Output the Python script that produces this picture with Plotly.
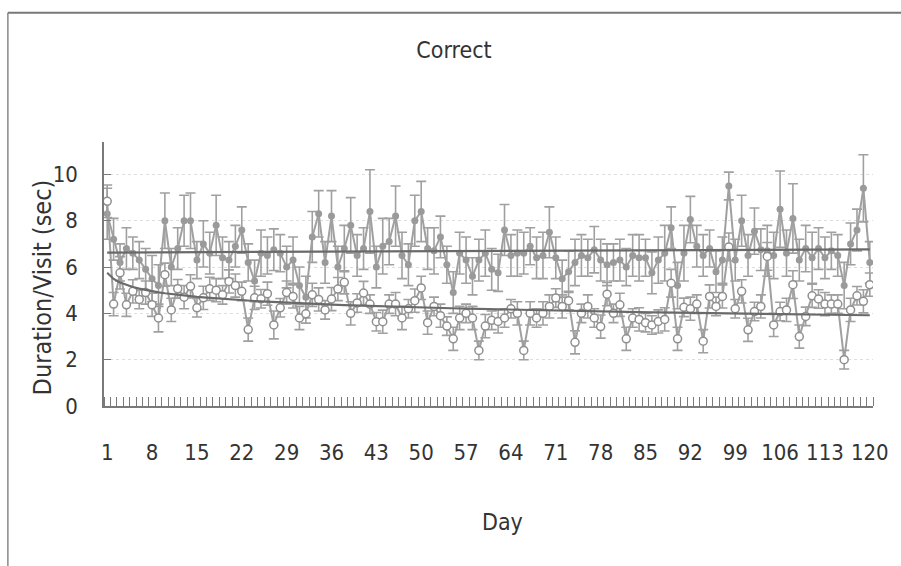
import numpy as np
import plotly.graph_objects as go

days = list(range(1, 121))
tick_days = [1, 8, 15, 22, 29, 36, 43, 50, 57, 64, 71, 78, 85, 92, 99, 106, 113, 120]
y_ticks = [0, 2, 4, 6, 8, 10]

# filled (upper) series
filled = [8.3, 7.2, 6.2, 6.8, 6.6, 6.3, 5.9, 5.5, 5.2, 8.0, 6.0, 6.8, 8.0, 8.0, 6.3, 7.0, 6.6, 7.8, 6.4, 6.3,
          6.9, 7.6, 6.2, 5.4, 6.6, 6.5, 6.75, 6.6, 6.0, 6.3, 5.2, 4.7, 7.3, 8.3, 6.2, 8.2, 6.0, 6.8, 7.8, 6.5,
          6.8, 8.4, 6.0, 6.9, 7.1, 8.2, 6.5, 6.1, 8.0, 8.4, 6.8, 6.7, 7.3, 6.1, 4.9, 6.6, 6.3, 5.6, 6.3, 6.6,
          5.9, 5.75, 7.6, 6.5, 6.6, 6.6, 6.9, 6.4, 6.5, 7.5, 6.4, 5.5, 5.8, 6.2, 6.5, 6.4, 6.75, 6.3, 6.1, 6.2,
          6.3, 6.0, 6.5, 6.4, 6.4, 5.75, 6.3, 6.6, 7.7, 5.2, 6.6, 8.05, 6.9, 6.5, 6.8, 5.8, 6.3, 9.5, 6.3, 8.0,
          6.5, 7.55, 6.75, 6.7, 6.5, 8.5, 6.6, 8.1, 6.3, 6.8, 6.4, 6.8, 6.4, 6.7, 6.5, 5.2, 7.0, 7.6, 9.4, 6.2]
filled_err = [1.1, 0.9, 0.8, 0.9, 0.7, 0.8, 0.9, 1.0, 0.9, 1.2, 0.8, 0.9, 1.1, 1.2, 0.8, 1.0, 0.9, 1.3, 0.9, 0.8,
              0.9, 1.0, 0.8, 0.9, 1.0, 0.8, 0.9, 0.8, 0.9, 1.0, 0.8, 0.9, 1.1, 1.0, 0.9, 1.1, 0.9, 1.0, 1.2, 0.9,
              0.9, 1.8, 0.9, 1.2, 1.0, 1.3, 1.0, 0.9, 1.1, 1.3, 0.9, 1.0, 0.9, 0.8, 0.9, 0.9, 1.0, 0.8, 0.9, 1.0,
              0.9, 0.8, 1.1, 0.9, 1.0, 0.9, 0.8, 0.9, 1.0, 1.1, 0.9, 0.8, 0.9, 1.0, 0.9, 0.8, 1.0, 0.9, 0.9, 0.8,
              0.9, 0.8, 0.9, 1.0, 0.8, 0.9, 1.0, 1.2, 0.9, 1.0, 1.2, 1.0, 0.9, 0.9, 0.8, 0.9, 1.0, 0.6, 0.9, 1.1,
              0.9, 1.0, 0.9, 1.1, 1.0, 1.65, 1.0, 1.5, 0.9, 1.0, 1.1, 0.9, 0.9, 0.8, 0.9, 1.0, 0.9, 0.9, 1.45, 0.9]

# open (lower) series
opened = [8.84, 4.4, 5.75, 4.37, 4.95, 4.6, 4.9, 4.37, 3.8, 5.67, 4.15, 5.06, 4.7, 5.17, 4.24, 4.67, 5.06, 5.0, 4.8, 5.38,
          5.2, 4.95, 3.3, 4.67, 4.63, 4.85, 3.5, 4.24, 4.9, 4.73, 3.8, 3.98, 4.8, 4.6, 4.15, 4.62, 5.05, 5.34, 4.0, 4.45,
          4.88, 4.4, 3.64, 3.64, 4.4, 4.4, 3.8, 4.2, 4.55, 5.1, 3.6, 4.3, 3.9, 3.45, 2.9, 3.8, 4.0, 3.8, 2.4, 3.45,
          3.7, 3.65, 3.8, 4.2, 4.0, 2.4, 4.0, 3.8, 4.0, 4.3, 4.66, 4.3, 4.55, 2.75, 4.0, 4.3, 3.8, 3.43, 4.83, 4.0,
          4.37, 2.9, 3.8, 3.74, 3.6, 3.5, 3.65, 3.74, 5.3, 2.9, 4.26, 4.2, 4.4, 2.8, 4.73, 4.3, 4.73, 6.87, 4.2, 4.95,
          3.29, 4.08, 4.3, 6.46, 3.5, 4.08, 4.15, 5.24, 3.0, 3.87, 4.76, 4.62, 4.4, 4.4, 4.4, 2.0, 4.15, 4.76, 4.52, 5.24]
opened_err = [0.7, 0.5, 0.7, 0.5, 0.5, 0.4, 0.5, 0.5, 0.6, 0.5, 0.5, 0.4, 0.5, 0.5, 0.4, 0.5, 0.5, 0.5, 0.4, 0.5,
              0.5, 0.4, 0.5, 0.5, 0.4, 0.5, 0.6, 0.4, 0.5, 0.5, 0.5, 0.4, 0.5, 0.5, 0.4, 0.5, 0.5, 0.5, 0.5, 0.4,
              0.5, 0.4, 0.4, 0.5, 0.4, 0.5, 0.5, 0.4, 0.5, 0.5, 0.5, 0.4, 0.5, 0.4, 0.5, 0.5, 0.4, 0.5, 0.4, 0.5,
              0.4, 0.5, 0.4, 0.4, 0.5, 0.4, 0.5, 0.4, 0.5, 0.5, 0.4, 0.5, 0.4, 0.5, 0.4, 0.5, 0.4, 0.5, 0.5, 0.4,
              0.5, 0.5, 0.4, 0.5, 0.4, 0.4, 0.5, 0.5, 0.6, 0.5, 0.4, 0.5, 0.4, 0.5, 0.5, 0.4, 0.5, 0.6, 0.4, 0.5,
              0.5, 0.4, 0.5, 0.6, 0.5, 0.4, 0.5, 0.6, 0.5, 0.4, 0.5, 0.4, 0.5, 0.4, 0.4, 0.4, 0.5, 0.4, 0.5, 0.5]

FONT = "DejaVu Sans Condensed, Liberation Sans Narrow, Liberation Sans, sans-serif"
SER = "#a0a0a0"
TREND = "#6a6a6a"

d = np.array(days, dtype=float)
# trend lines fitted from the data (linear for filled, logarithmic for open)
lin = np.polyfit(d, np.array(filled), 1)
trend_filled = np.polyval(lin, d)
lg = np.polyfit(np.log(d), np.array(opened), 1)
trend_open = np.polyval(lg, np.log(d))

fig = go.Figure()
fig.add_trace(go.Scatter(
    x=days, y=filled, mode="lines+markers",
    line=dict(color=SER, width=2),
    marker=dict(symbol="circle", size=7, color="#9a9a9a"),
    error_y=dict(type="data", array=filled_err, visible=True, color=SER, thickness=1.6, width=5),
    showlegend=False))
fig.add_trace(go.Scatter(
    x=days, y=opened, mode="lines+markers",
    line=dict(color=SER, width=2),
    marker=dict(symbol="circle", size=8, color="white", line=dict(color="#8f8f8f", width=1.5)),
    error_y=dict(type="data", array=opened_err, visible=True, color=SER, thickness=1.6, width=5),
    showlegend=False))
fig.add_trace(go.Scatter(x=days, y=trend_filled, mode="lines",
                         line=dict(color=TREND, width=2.2), showlegend=False))
fig.add_trace(go.Scatter(x=days, y=trend_open, mode="lines",
                         line=dict(color=TREND, width=2.2), showlegend=False))

fig.update_layout(
    width=901, height=566,
    margin=dict(l=104, r=23, t=142, b=160),
    paper_bgcolor="white", plot_bgcolor="white",
    font=dict(family=FONT, size=21, color="#333333"),
    title=dict(text="Correct", x=454 / 901, xref="container", y=1 - 50 / 566, yref="container",
               yanchor="middle", xanchor="center", font=dict(size=23, color="#333333")),
    xaxis=dict(range=[0.5, 120.5], tickmode="array", tickvals=tick_days,
               ticktext=[str(t) for t in tick_days], ticks="", showgrid=False,
               showline=True, linecolor="#7a7a7a", linewidth=1.5, zeroline=False,
               ticklabelstandoff=26, tickfont=dict(size=22),
               minor=dict(tickmode="linear", tick0=0.5, dtick=1, ticks="inside",
                          ticklen=9, tickcolor="#7a7a7a", tickwidth=1, showgrid=False)),
    yaxis=dict(range=[0, 11.4], tickmode="array", tickvals=y_ticks, ticks="inside",
               ticklen=7, tickcolor="#7a7a7a", showline=True, linecolor="#7a7a7a", linewidth=1.5,
               showgrid=True, gridcolor="#dddddd", griddash="dot", gridwidth=1, zeroline=False,
               ticklabelstandoff=20, tickfont=dict(size=22)),
    shapes=[
        dict(type="line", xref="paper", yref="paper", x0=-0.125, x1=1.05, y0=1.49, y1=1.49,
             line=dict(color="#777777", width=2)),
        dict(type="line", xref="paper", yref="paper", x0=-0.125, x1=-0.125, y0=1.49, y1=-0.65,
             line=dict(color="#888888", width=1.5)),
    ],
    annotations=[
        dict(text="Duration/Visit (sec)", xref="paper", yref="paper", x=(42 - 104) / 774,
             y=(406 - 287) / 264, textangle=-90, showarrow=False, font=dict(size=25),
             xanchor="center", yanchor="middle"),
        dict(text="Day", xref="paper", yref="paper", x=(505 - 104) / 774, y=(406 - 522) / 264,
             showarrow=False, font=dict(size=23), xanchor="center", yanchor="middle"),
    ],
)

fig.write_html("out.html", config={"displayModeBar": False},
               post_script="document.body.style.margin='0px';")
